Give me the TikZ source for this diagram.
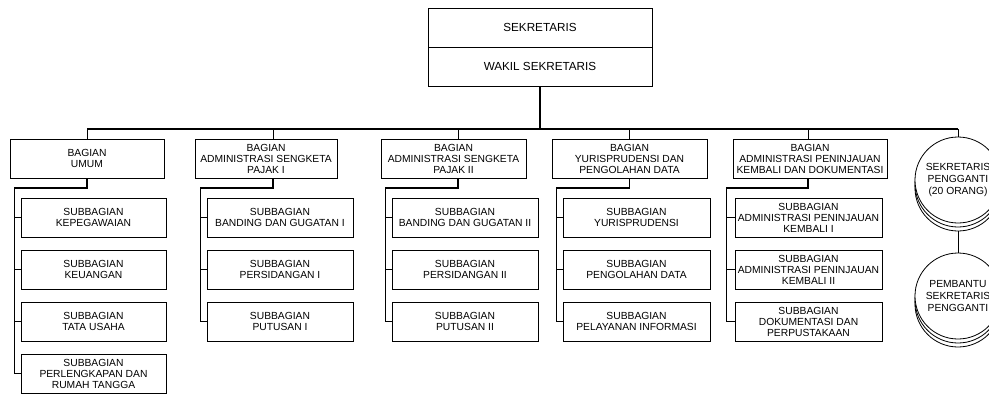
\documentclass[tikz,border=0pt]{standalone}
\usepackage{fontspec}
\setmainfont{Liberation Sans}
\begin{document}
\begin{tikzpicture}[x=1pt,y=-1pt,
  bx/.style={draw, line width=0.8pt, rectangle, inner sep=0pt, align=center,
    font=\fontsize{10.3}{11}\selectfont, minimum height=39pt},
  topbx/.style={bx, font=\fontsize{11.7}{13}\selectfont, minimum width=224pt},
  circ/.style={circle, draw, fill=white, line width=0.8pt, inner sep=0pt, align=center,
    minimum size=86pt, font=\fontsize{10.3}{11.8}\selectfont},
  thinln/.style={line width=0.8pt},
  elbow/.style={line width=1.4pt},
  busln/.style={line width=1.2pt},
  mainln/.style={line width=1.8pt}]
\useasboundingbox (0,0) rectangle (989,394);
\clip (0,0) rectangle (989,394);

% top
\node[topbx] (sek) at (540,27.5) {SEKRETARIS};
\node[topbx] (wakil) at (540,66.5) {WAKIL SEKRETARIS};
\coordinate (bus) at (540,129);

% bagian
\node[bx, minimum width=154pt] (b1) at (87,158.5) {BAGIAN\\UMUM};
\node[bx, minimum width=142pt] (b2) at (266,158.5) {BAGIAN\\ADMINISTRASI SENGKETA\\PAJAK I};
\node[bx, minimum width=145pt] (b3) at (453.5,158.5) {BAGIAN\\ADMINISTRASI SENGKETA\\PAJAK II};
\node[bx, minimum width=155pt] (b4) at (629.5,158.5) {BAGIAN\\YURISPRUDENSI DAN\\PENGOLAHAN DATA};
\node[bx, minimum width=154pt] (b5) at (810,158.5) {BAGIAN\\ADMINISTRASI PENINJAUAN\\KEMBALI DAN DOKUMENTASI};

% circles
\draw[fill=white, line width=0.8pt] (958,188) circle[radius=43pt];
\draw[fill=white, line width=0.8pt] (958,184) circle[radius=43pt];
\node[circ] (c1) at (958,180) {SEKRETARIS\\PENGGANTI\\(20 ORANG)};
\draw[fill=white, line width=0.8pt] (958,304) circle[radius=43pt];
\draw[fill=white, line width=0.8pt] (958,300) circle[radius=43pt];
\node[circ] (c2) at (958,296) {PEMBANTU\\SEKRETARIS\\PENGGANTI};

% sub boxes Umum
\node[bx, minimum width=145pt] (s11) at (93.5,217.5) {SUBBAGIAN\\KEPEGAWAIAN};
\node[bx, minimum width=145pt] (s12) at (93.5,269.5) {SUBBAGIAN\\KEUANGAN};
\node[bx, minimum width=145pt] (s13) at (93.5,321.5) {SUBBAGIAN\\TATA USAHA};
\node[bx, minimum width=145pt] (s14) at (93.5,373.5) {SUBBAGIAN\\PERLENGKAPAN DAN\\RUMAH TANGGA};
% SP I
\node[bx, minimum width=146pt] (s21) at (280,217.5) {SUBBAGIAN\\BANDING DAN GUGATAN I};
\node[bx, minimum width=146pt] (s22) at (280,269.5) {SUBBAGIAN\\PERSIDANGAN I};
\node[bx, minimum width=146pt] (s23) at (280,321.5) {SUBBAGIAN\\PUTUSAN I};
% SP II
\node[bx, minimum width=146pt] (s31) at (465,217.5) {SUBBAGIAN\\BANDING DAN GUGATAN II};
\node[bx, minimum width=146pt] (s32) at (465,269.5) {SUBBAGIAN\\PERSIDANGAN II};
\node[bx, minimum width=146pt] (s33) at (465,321.5) {SUBBAGIAN\\PUTUSAN II};
% Yuris
\node[bx, minimum width=147pt] (s41) at (636.5,217.5) {SUBBAGIAN\\YURISPRUDENSI};
\node[bx, minimum width=147pt] (s42) at (636.5,269.5) {SUBBAGIAN\\PENGOLAHAN DATA};
\node[bx, minimum width=147pt] (s43) at (636.5,321.5) {SUBBAGIAN\\PELAYANAN INFORMASI};
% Peninjauan
\node[bx, minimum width=147pt] (s51) at (808.5,217.5) {SUBBAGIAN\\ADMINISTRASI PENINJAUAN\\KEMBALI I};
\node[bx, minimum width=147pt] (s52) at (808.5,269.5) {SUBBAGIAN\\ADMINISTRASI PENINJAUAN\\KEMBALI II};
\node[bx, minimum width=147pt] (s53) at (808.5,321.5) {SUBBAGIAN\\DOKUMENTASI DAN\\PERPUSTAKAAN};

% main connectors
\draw[mainln] (wakil.south) -- (bus);
\draw[busln] (b1.north |- bus) -- (c1.north |- bus);
\draw[thinln] (b1.north) -- (b1.north |- bus);
\draw[thinln] ([xshift=7pt]b2.north) -- ([xshift=7pt]b2.north |- bus);
\draw[thinln] ([xshift=4.5pt]b3.north) -- ([xshift=4.5pt]b3.north |- bus);
\draw[thinln] (b4.north) -- (b4.north |- bus);
\draw[thinln] ([xshift=-2pt]b5.north) -- ([xshift=-2pt]b5.north |- bus);
\draw[thinln] (c1.north) -- (c1.north |- bus);
\draw[thinln] ([yshift=-8pt]c1.south) -- (c2.north);

% elbows
\coordinate (e1) at (14,188);
\coordinate (e2) at (200,188);
\coordinate (e3) at (385,188);
\coordinate (e4) at (556,188);
\coordinate (e5) at (726,188);
\draw[elbow] (b1.south) |- (e1);
\draw[elbow] ([xshift=7pt]b2.south) |- (e2);
\draw[elbow] ([xshift=4.5pt]b3.south) |- (e3);
\draw[elbow] (b4.south) |- (e4);
\draw[elbow] ([xshift=-2pt]b5.south) |- (e5);

\draw[thinln] (e1) -- (e1 |- s14.west) -- (s14.west);
\foreach \s in {s11,s12,s13} \draw[thinln] (e1 |- \s.west) -- (\s.west);
\draw[thinln] (e2) -- (e2 |- s23.west) -- (s23.west);
\foreach \s in {s21,s22} \draw[thinln] (e2 |- \s.west) -- (\s.west);
\draw[thinln] (e3) -- (e3 |- s33.west) -- (s33.west);
\foreach \s in {s31,s32} \draw[thinln] (e3 |- \s.west) -- (\s.west);
\draw[thinln] (e4) -- (e4 |- s43.west) -- (s43.west);
\foreach \s in {s41,s42} \draw[thinln] (e4 |- \s.west) -- (\s.west);
\draw[thinln] (e5) -- (e5 |- s53.west) -- (s53.west);
\foreach \s in {s51,s52} \draw[thinln] (e5 |- \s.west) -- (\s.west);
\end{tikzpicture}
\end{document}
